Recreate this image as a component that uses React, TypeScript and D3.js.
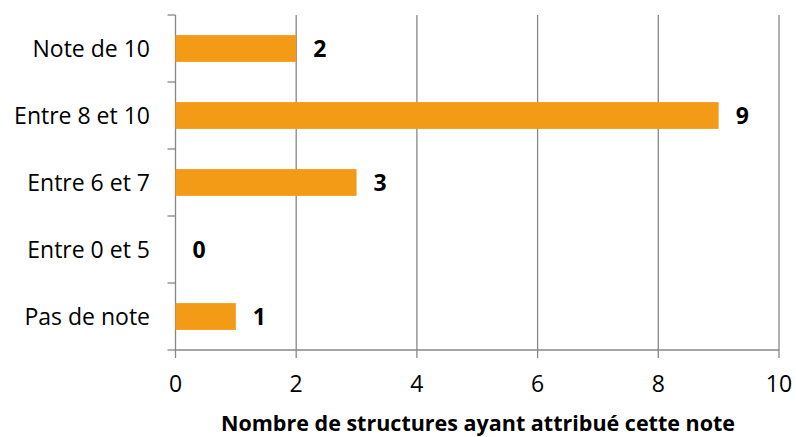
import React from "react";
import * as d3 from "d3";

const categories = ["Note de 10", "Entre 8 et 10", "Entre 6 et 7", "Entre 0 et 5", "Pas de note"];
const values = [2, 9, 3, 0, 1];
const xTicks = [0, 2, 4, 6, 8, 10];
const xTitle = "Nombre de structures ayant attribué cette note";

const W = 796;
const H = 437;
const margin = { left: 175.5, right: 17, top: 15, bottom: 87 };
const font = "'Open Sans', sans-serif";
const grey = "#878787";

export default function App() {
  const x = d3.scaleLinear().domain([0, 10]).range([margin.left, W - margin.right]);
  const y = d3
    .scaleBand<string>()
    .domain(categories)
    .range([margin.top, H - margin.bottom])
    .paddingInner(0.6)
    .paddingOuter(0.3);
  const step = y.step();
  const bottom = H - margin.bottom;
  const bandEdges = d3.range(categories.length + 1).map((i) => margin.top + i * step);

  return (
    <svg width={W} height={H} style={{ position: "absolute", left: 0, top: 0 }}>
      <rect width={W} height={H} fill="#fff" />
      {/* vertical gridlines */}
      {xTicks.slice(1).map((t) => (
        <line key={"g" + t} x1={x(t)} x2={x(t)} y1={margin.top} y2={bottom + 8} stroke={grey} strokeWidth={1.3} />
      ))}
      {/* left axis, ticks between categories */}
      <line x1={x(0)} x2={x(0)} y1={margin.top} y2={bottom + 8} stroke={grey} strokeWidth={1.3} />
      {bandEdges.map((e, i) => (
        <line key={"t" + i} x1={x(0) - 8} x2={x(0)} y1={e} y2={e} stroke={grey} strokeWidth={1.3} />
      ))}
      <line x1={x(0)} x2={x(10)} y1={bottom} y2={bottom} stroke={grey} strokeWidth={1.3} />
      {/* bars */}
      {categories.map((c, i) => {
        const cy = (y(c) ?? 0) + y.bandwidth() / 2;
        return (
          <g key={c}>
            {values[i] > 0 && (
              <rect x={x(0)} y={y(c)} width={x(values[i]) - x(0)} height={y.bandwidth()} fill="#F39B16" />
            )}
            <text x={x(values[i]) + 17} y={cy} dy="0.36em" fontFamily={font} fontWeight="bold" fontSize={23} fill="#000">
              {values[i]}
            </text>
            <text x={150} y={cy} dy="0.36em" textAnchor="end" fontFamily={font} fontSize={23} fill="#000">
              {c}
            </text>
          </g>
        );
      })}
      {xTicks.map((t) => (
        <text key={"l" + t} x={x(t)} y={384} dy="0.36em" textAnchor="middle" fontFamily={font} fontSize={23} fill="#000">
          {t}
        </text>
      ))}
      <text x={478} y={423} dy="0.36em" textAnchor="middle" fontFamily={font} fontWeight="bold" fontSize={21.5} fill="#000">
        {xTitle}
      </text>
    </svg>
  );
}
